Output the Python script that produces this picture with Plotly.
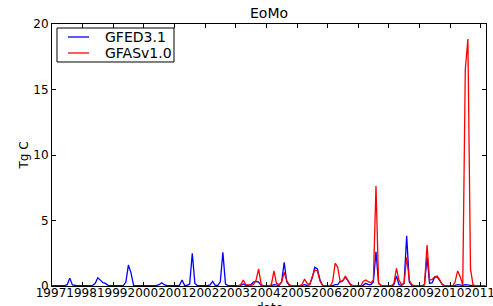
import pandas as pd
import plotly.graph_objects as go

# Monthly totals (Tg C), Jan..Dec per year
gfed_1997 = [0.02, 0.02, 0.03, 0.04, 0.03, 0.03, 0.10, 0.60, 0.08, 0.03, 0.02, 0.02]
gfed_1998 = [0.02, 0.02, 0.03, 0.04, 0.05, 0.20, 0.63, 0.45, 0.25, 0.20, 0.05, 0.02]
gfed_1999 = [0.02, 0.02, 0.02, 0.03, 0.03, 0.30, 1.60, 1.00, 0.05, 0.03, 0.02, 0.02]
gfed_2000 = [0.02, 0.02, 0.02, 0.03, 0.03, 0.05, 0.10, 0.25, 0.10, 0.03, 0.02, 0.02]
gfed_2001 = [0.02, 0.02, 0.05, 0.46, 0.05, 0.05, 0.15, 2.50, 0.20, 0.03, 0.02, 0.02]
gfed_2002 = [0.02, 0.02, 0.08, 0.35, 0.05, 0.05, 0.30, 2.57, 0.15, 0.03, 0.02, 0.02]
gfed_2003 = [0.02, 0.02, 0.05, 0.15, 0.05, 0.05, 0.10, 0.30, 0.35, 0.30, 0.05, 0.02]
gfed_2004 = [0.02, 0.02, 0.03, 0.10, 0.05, 0.05, 0.30, 1.80, 0.30, 0.05, 0.02, 0.02]
gfed_2005 = [0.02, 0.02, 0.03, 0.10, 0.05, 0.10, 0.60, 1.43, 1.30, 0.50, 0.05, 0.02]
gfed_2006 = [0.02, 0.02, 0.03, 0.10, 0.10, 0.35, 0.40, 0.70, 0.40, 0.10, 0.02, 0.02]
gfed_2007 = [0.02, 0.02, 0.05, 0.20, 0.10, 0.10, 0.30, 2.62, 0.20, 0.05, 0.02, 0.02]
gfed_2008 = [0.02, 0.02, 0.10, 0.76, 0.10, 0.05, 0.20, 3.84, 0.30, 0.05, 0.02, 0.02]
gfed_2009 = [0.02, 0.02, 0.10, 2.19, 0.20, 0.25, 0.66, 0.70, 0.40, 0.10, 0.02, 0.02]
gfed_2010 = [0.02, 0.02, 0.05, 0.10, 0.05, 0.05, 0.10, 0.10, 0.05, 0.02, 0.02, 0.02]

gfas_2003 = [0.00, 0.02, 0.10, 0.46, 0.10, 0.05, 0.05, 0.10, 0.45, 1.30, 0.10, 0.02]
gfas_2004 = [0.02, 0.02, 0.10, 1.15, 0.20, 0.10, 0.30, 1.05, 0.40, 0.10, 0.02, 0.02]
gfas_2005 = [0.02, 0.02, 0.10, 0.53, 0.20, 0.10, 0.70, 1.22, 1.15, 0.40, 0.05, 0.02]
gfas_2006 = [0.02, 0.02, 0.30, 1.73, 1.45, 0.30, 0.40, 0.76, 0.40, 0.10, 0.02, 0.02]
gfas_2007 = [0.02, 0.02, 0.35, 0.46, 0.33, 0.25, 0.45, 7.63, 0.20, 0.05, 0.02, 0.02]
gfas_2008 = [0.02, 0.02, 0.20, 1.35, 0.45, 0.10, 0.20, 2.19, 0.45, 0.10, 0.02, 0.02]
gfas_2009 = [0.02, 0.02, 0.10, 3.13, 0.45, 0.50, 0.70, 0.76, 0.45, 0.10, 0.02, 0.02]
gfas_2010 = [0.02, 0.02, 0.30, 1.15, 0.70, 0.10, 16.5, 18.85, 1.30, 0.10, 0.02, 0.02]
gfas_2011 = [0.02, 0.02, 0.02]

gfed = (gfed_1997 + gfed_1998 + gfed_1999 + gfed_2000 + gfed_2001 + gfed_2002 + gfed_2003
        + gfed_2004 + gfed_2005 + gfed_2006 + gfed_2007 + gfed_2008 + gfed_2009 + gfed_2010)
gfas = (gfas_2003 + gfas_2004 + gfas_2005 + gfas_2006 + gfas_2007 + gfas_2008 + gfas_2009
        + gfas_2010 + gfas_2011)

gfed_dates = pd.date_range("1997-01-01", periods=len(gfed), freq="MS")
gfas_dates = pd.date_range("2003-01-01", periods=len(gfas), freq="MS")

years = list(range(1997, 2012))
tick_dates = [f"{y}-01-01" for y in years]
tick_text = [str(y) for y in years]

series_names = ["GFED3.1", "GFASv1.0"]
series_colors = ["#0000ff", "#ff0000"]

FONT = "DejaVu Sans"

fig = go.Figure()
fig.add_trace(go.Scatter(x=gfed_dates, y=gfed, mode="lines", name=series_names[0],
                         line=dict(color=series_colors[0], width=1.3), showlegend=False))
fig.add_trace(go.Scatter(x=gfas_dates, y=gfas, mode="lines", name=series_names[1],
                         line=dict(color=series_colors[1], width=1.3), showlegend=False))

# matplotlib-style legend box (paper coordinates)
fig.add_shape(type="rect", xref="paper", yref="paper", x0=0.0115, x1=0.2811,
              y0=0.855, y1=0.9847, line=dict(color="black", width=1), fillcolor="white",
              layer="above")
for i, (nm, col) in enumerate(zip(series_names, series_colors)):
    yy = 0.9504 - i * 0.0611
    fig.add_shape(type="line", xref="paper", yref="paper", x0=0.0369, x1=0.0853,
                  y0=yy, y1=yy, line=dict(color=col, width=1.3), layer="above")
    fig.add_annotation(text=nm, xref="paper", yref="paper", x=0.1175, y=yy,
                       xanchor="left", yanchor="middle", showarrow=False,
                       font=dict(family=FONT, size=14, color="black"))

# x-axis title sits below the tick labels (partly beyond the figure's bottom edge)
fig.add_annotation(text="date", xref="paper", yref="paper", x=0.5, y=-0.053,
                   xanchor="center", yanchor="top", showarrow=False, borderpad=0,
                   font=dict(family=FONT, size=12, color="black"))

axis_common = dict(showline=True, linecolor="black", linewidth=1, mirror="allticks",
                   ticks="inside", ticklen=4, tickcolor="black", showgrid=False,
                   zeroline=False, tickfont=dict(family=FONT, size=12, color="black"))

fig.update_layout(
    width=493, height=306,
    margin=dict(l=52, r=7, t=24, b=20, autoexpand=False),
    paper_bgcolor="white", plot_bgcolor="white",
    font=dict(family=FONT, color="black"),
    showlegend=False,
    title=dict(text="EoMo", x=0.5, xref="paper", y=1 - 13 / 306, yref="container",
               yanchor="middle", font=dict(family=FONT, size=14, color="black")),
    xaxis=dict(type="date", range=["1997-01-01", "2011-03-05"], tickvals=tick_dates,
               ticktext=tick_text, ticklabelstandoff=-4, tickangle=0,
               ticklabeloverflow="allow", ticklabelshift=-1,
               automargin=False, **axis_common),
    yaxis=dict(range=[0, 20], tickvals=[0, 5, 10, 15, 20],
               title=dict(text="Tg C", standoff=2, font=dict(family=FONT, size=12)),
               automargin=False, **axis_common),
)

fig.write_html("out.html", config={"displayModeBar": False},
               post_script="document.body.style.margin='0';")
